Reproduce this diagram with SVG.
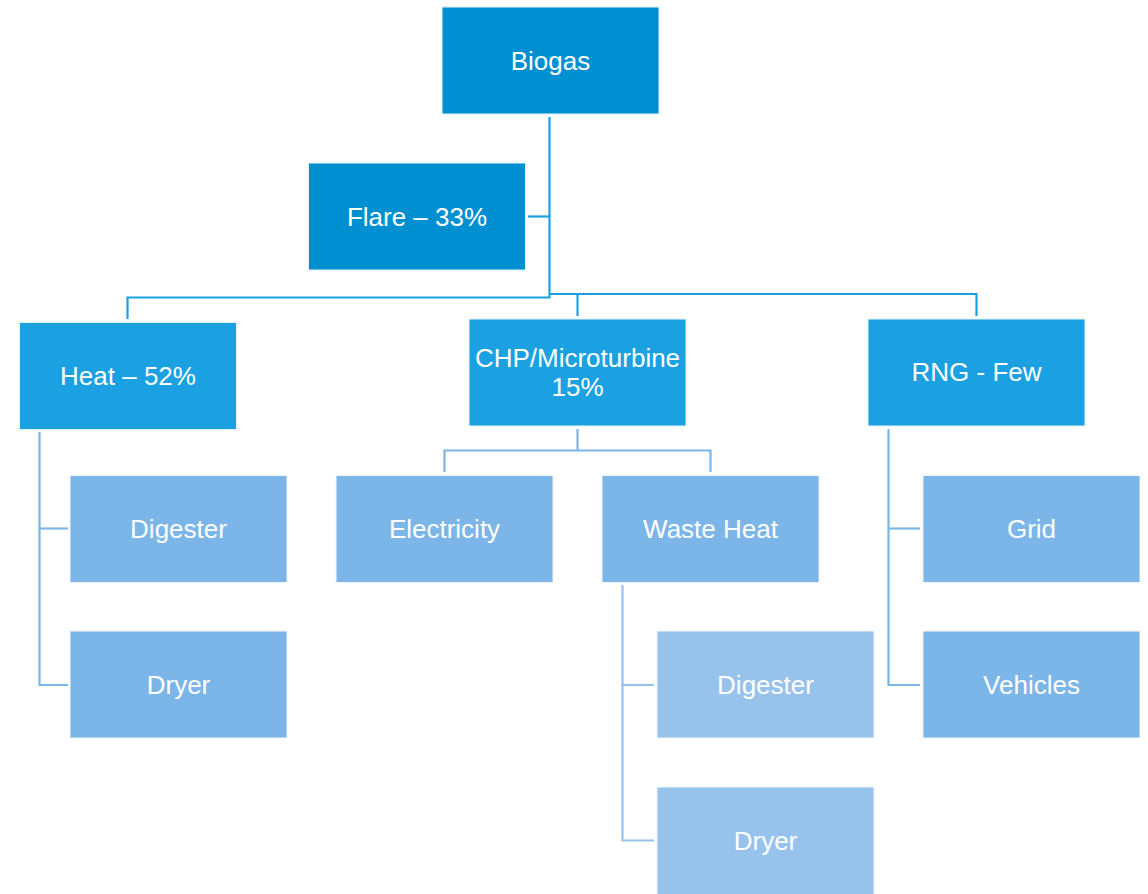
<svg xmlns="http://www.w3.org/2000/svg" width="1148" height="894" viewBox="0 0 1148 894">
  <style>
    .lbl { font-family: "Liberation Sans", Arial, sans-serif; font-size: 26px; fill: #ffffff; text-anchor: middle; }
    .l1 { fill: #008fd0; stroke: #e6f3fa; stroke-width: 1; }
    .l2 { fill: #1ba1e2; stroke: #e6f3fa; stroke-width: 1; }
    .l3 { fill: #7cb5e8; stroke: #eef5fc; stroke-width: 1; }
    .l4 { fill: #97c2eb; stroke: #f0f6fc; stroke-width: 1; }
    .c1 { fill: none; stroke: #1ba1e2; stroke-width: 2.2; }
    .c2 { fill: none; stroke: #7cb5e8; stroke-width: 2.2; }
    .c3 { fill: none; stroke: #97c2eb; stroke-width: 2.2; }
  </style>
  <rect width="1148" height="894" fill="#ffffff"/>

  <!-- connectors -->
  <g id="connectors">
    <path class="c1" d="M549.5 117 V297.5 H127.5 V319"/>
    <path class="c1" d="M528 216.5 H549.5"/>
    <path class="c1" d="M549.5 294 H976.5 V316"/>
    <path class="c1" d="M577.5 294 V316"/>
    <path class="c2" d="M39.5 432 V685 H68"/>
    <path class="c2" d="M39.5 528.5 H68"/>
    <path class="c2" d="M577.5 429 V450.5"/>
    <path class="c2" d="M444.5 472 V450.5 H710.5 V472"/>
    <path class="c2" d="M888.5 429 V685 H920"/>
    <path class="c2" d="M888.5 528.5 H920"/>
    <path class="c3" d="M622.5 585 V840.5 H654"/>
    <path class="c3" d="M622.5 685 H654"/>
  </g>

  <g id="biogas">
    <rect class="l1" x="442" y="7" width="217" height="107"/>
    <text class="lbl" x="550.5" y="69.5">Biogas</text>
  </g>
  <g id="flare">
    <rect class="l1" x="308.5" y="163" width="217" height="107"/>
    <text class="lbl" x="417" y="225.5">Flare – 33%</text>
  </g>
  <g id="heat">
    <rect class="l2" x="19.5" y="322.5" width="217" height="107"/>
    <text class="lbl" x="128" y="384.5">Heat – 52%</text>
  </g>
  <g id="chp">
    <rect class="l2" x="469" y="319" width="217" height="107"/>
    <text class="lbl" x="577.5" y="366.5">CHP/Microturbine</text>
    <text class="lbl" x="577.5" y="395.5">15%</text>
  </g>
  <g id="rng">
    <rect class="l2" x="868" y="319" width="217" height="107"/>
    <text class="lbl" x="976.5" y="381">RNG - Few</text>
  </g>
  <g id="heat-digester">
    <rect class="l3" x="70" y="475.5" width="217" height="107"/>
    <text class="lbl" x="178.5" y="538">Digester</text>
  </g>
  <g id="heat-dryer">
    <rect class="l3" x="70" y="631" width="217" height="107"/>
    <text class="lbl" x="178.5" y="693.5">Dryer</text>
  </g>
  <g id="electricity">
    <rect class="l3" x="336" y="475.5" width="217" height="107"/>
    <text class="lbl" x="444.5" y="538">Electricity</text>
  </g>
  <g id="waste-heat">
    <rect class="l3" x="602" y="475.5" width="217" height="107"/>
    <text class="lbl" x="710.5" y="538">Waste Heat</text>
  </g>
  <g id="waste-digester">
    <rect class="l4" x="657" y="631" width="217" height="107"/>
    <text class="lbl" x="765.5" y="693.5">Digester</text>
  </g>
  <g id="waste-dryer">
    <rect class="l4" x="657" y="787" width="217" height="108"/>
    <text class="lbl" x="765.5" y="849.5">Dryer</text>
  </g>
  <g id="grid">
    <rect class="l3" x="923" y="475.5" width="217" height="107"/>
    <text class="lbl" x="1031.5" y="538">Grid</text>
  </g>
  <g id="vehicles">
    <rect class="l3" x="923" y="631" width="217" height="107"/>
    <text class="lbl" x="1031.5" y="693.5">Vehicles</text>
  </g>
</svg>
